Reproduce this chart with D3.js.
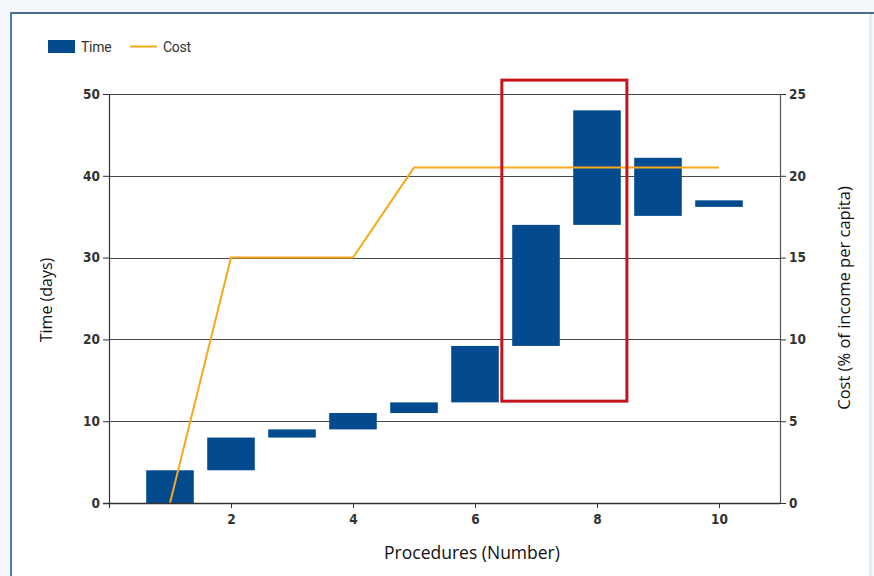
<!DOCTYPE html>
<html>
<head>
<meta charset="utf-8">
<script src="https://cdn.jsdelivr.net/npm/d3@7"></script>
<style>
  html, body { margin: 0; padding: 0; background: #f4f8fc; }
  svg { display: block; }
  .tick text { font-family: "Liberation Sans Narrow", "DejaVu Sans Condensed", "Roboto", sans-serif; font-weight: bold; font-size: 13.5px; fill: #333; }
  .title { font-family: "Open Sans", "DejaVu Sans", sans-serif; fill: #111; }
  .legend text { font-family: "Roboto", "Liberation Sans Narrow", sans-serif; font-size: 14px; fill: #333; letter-spacing: -0.3px; }
</style>
</head>
<body>
<script>
// Procedures and the time window (in days) each one occupies
const procedures = [1, 2, 3, 4, 5, 6, 7, 8, 9, 10];
const timeStart  = [0, 4, 8, 9, 11, 12.3, 19.2, 34, 35.1, 36.2];
const timeEnd    = [4, 8, 9, 11, 12.3, 19.2, 34, 48, 42.2, 37];
// Cumulative cost (% of income per capita) after each procedure
const cost       = [0, 15, 15, 15, 20.5, 20.5, 20.5, 20.5, 20.5, 20.5];

// Axis ticks
const timeTicks  = [0, 10, 20, 30, 40, 50];
const costTicks  = [0, 5, 10, 15, 20, 25];
const procTicks  = [2, 4, 6, 8, 10];

// Highlighted procedures (7 and 8), in data units
const highlightX = [6.44, 8.49];
const highlightT = [12.45, 51.7];

const W = 874, H = 576;
const plotL = 109, plotR = 780, plotT = 94, plotB = 503;
const barBlue = "#034b8e", costOrange = "#f7a81b";

const svg = d3.select("body").append("svg").attr("width", W).attr("height", H);

// Panel frame
svg.append("rect").attr("x", 11).attr("y", 13).attr("width", 860).attr("height", 580)
  .attr("fill", "#ffffff");
svg.append("line").attr("x1", 870.5).attr("x2", 870.5).attr("y1", 13).attr("y2", H)
  .attr("stroke", "#e2edf8").attr("stroke-width", 3);
svg.append("line").attr("x1", 11).attr("x2", 874).attr("y1", 13).attr("y2", 13)
  .attr("stroke", "#4c6a8c").attr("stroke-width", 2);
svg.append("line").attr("x1", 11).attr("x2", 11).attr("y1", 12).attr("y2", H)
  .attr("stroke", "#4f7db8").attr("stroke-width", 2);

const x  = d3.scaleLinear().domain([0, 11]).range([plotL, plotR]);
const yT = d3.scaleLinear().domain([0, 50]).range([plotB, plotT]);
const yC = d3.scaleLinear().domain([0, 25]).range([plotB, plotT]);

// Horizontal gridlines
svg.append("g").selectAll("line").data(timeTicks.filter(d => d > 0)).join("line")
  .attr("x1", plotL).attr("x2", plotR)
  .attr("y1", d => Math.round(yT(d)) + 0.5).attr("y2", d => Math.round(yT(d)) + 0.5)
  .attr("stroke", "#4a4a4a").attr("stroke-width", 1.2);

// Time bars (floating, start to end)
const bw = (x(1) - x(0)) * 0.78;
svg.append("g").selectAll("rect").data(procedures).join("rect")
  .attr("x", d => x(d) - bw / 2)
  .attr("y", (d, i) => yT(timeEnd[i]))
  .attr("width", bw)
  .attr("height", (d, i) => yT(timeStart[i]) - yT(timeEnd[i]))
  .attr("fill", barBlue);

// Cost line
svg.append("path")
  .datum(procedures.map((p, i) => [p, cost[i]]))
  .attr("fill", "none").attr("stroke", costOrange).attr("stroke-width", 2)
  .attr("d", d3.line().x(d => x(d[0])).y(d => yC(d[1])));

// Left axis
const gL = svg.append("g").attr("transform", `translate(${plotL},0)`)
  .call(d3.axisLeft(yT).tickValues(timeTicks).tickSize(6).tickPadding(3));
gL.select(".domain").remove();
gL.selectAll(".tick line").attr("stroke", "#333");
svg.append("line").attr("x1", plotL + 0.5).attr("x2", plotL + 0.5).attr("y1", plotT).attr("y2", plotB + 5)
  .attr("stroke", "#333").attr("stroke-width", 1.2);

// Right axis
const gR = svg.append("g").attr("transform", `translate(${plotR},0)`)
  .call(d3.axisRight(yC).tickValues(costTicks).tickSize(6).tickPadding(3));
gR.select(".domain").remove();
gR.selectAll(".tick line").attr("stroke", "#333");
svg.append("line").attr("x1", plotR + 0.5).attr("x2", plotR + 0.5).attr("y1", plotT).attr("y2", plotB)
  .attr("stroke", "#555").attr("stroke-width", 1.2);

// Bottom axis
const gB = svg.append("g").attr("transform", `translate(0,${plotB})`)
  .call(d3.axisBottom(x).tickValues(procTicks).tickSize(5).tickPadding(6));
gB.select(".domain").remove();
gB.selectAll(".tick line").attr("stroke", "#333");
svg.append("line").attr("x1", plotL - 6).attr("x2", plotR).attr("y1", plotB + 0.5).attr("y2", plotB + 0.5)
  .attr("stroke", "#333").attr("stroke-width", 1.4);

// Highlight box around procedures 7 and 8
svg.append("rect")
  .attr("x", x(highlightX[0])).attr("y", yT(highlightT[1]))
  .attr("width", x(highlightX[1]) - x(highlightX[0]))
  .attr("height", yT(highlightT[0]) - yT(highlightT[1]))
  .attr("fill", "none").attr("stroke", "#c4141c").attr("stroke-width", 3);

// Axis titles
svg.append("text").attr("class", "title")
  .attr("transform", `translate(52,300) rotate(-90)`)
  .attr("text-anchor", "middle").attr("font-size", 16).text("Time (days)");
svg.append("text").attr("class", "title")
  .attr("transform", `translate(850,298) rotate(-90)`)
  .attr("text-anchor", "middle").attr("font-size", 16.5).text("Cost (% of income per capita)");
svg.append("text").attr("class", "title")
  .attr("x", 472).attr("y", 559)
  .attr("text-anchor", "middle").attr("font-size", 17.5).text("Procedures (Number)");

// Legend
const lg = svg.append("g").attr("class", "legend");
lg.append("rect").attr("x", 48).attr("y", 40).attr("width", 27).attr("height", 13).attr("fill", barBlue);
lg.append("text").attr("x", 81).attr("y", 52).text("Time");
lg.append("line").attr("x1", 130).attr("x2", 157).attr("y1", 46.5).attr("y2", 46.5)
  .attr("stroke", costOrange).attr("stroke-width", 2);
lg.append("text").attr("x", 163).attr("y", 52).text("Cost");
</script>
</body>
</html>
